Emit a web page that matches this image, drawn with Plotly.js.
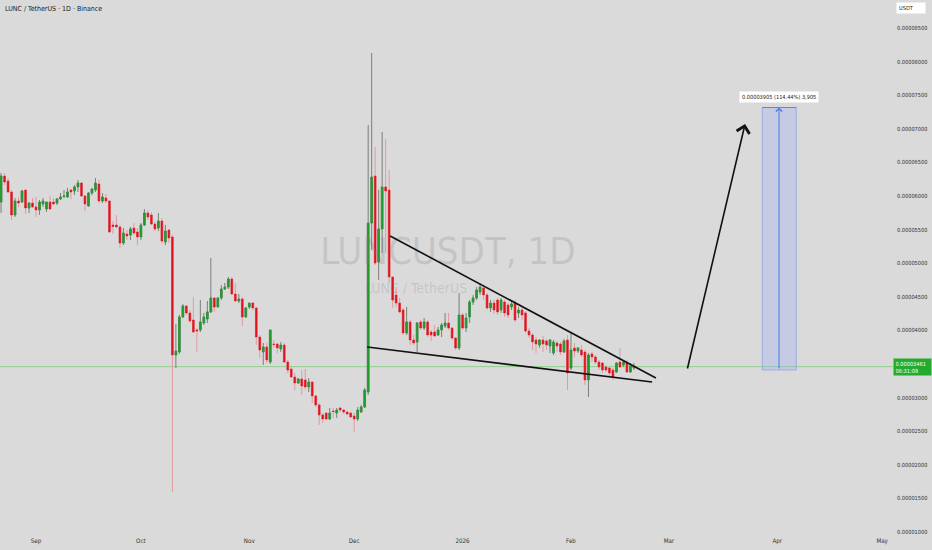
<!DOCTYPE html>
<html>
<head>
<meta charset="utf-8">
<script src="https://cdn.plot.ly/plotly-3.0.1.min.js"></script>
<style>
html,body{margin:0;padding:0;background:#dadada;}
#chart{width:932px;height:550px;}
</style>
</head>
<body>
<div id="chart"></div>
<script>
// Prices are given in units of 0.00000001 USDT
const UNIT = 1e-8;
const firstDate = '2025-08-22';

const opens = [
5911,6298,6224,6060,5718,5926,5911,6090,5822,5896,
5837,5792,5881,5807,5911,5911,5896,5956,5993,5986,
6090,6075,6135,6194,6001,5852,6045,6090,6179,5926,
5971,5926,5569,5569,5539,5301,5435,5420,5524,5465,
5391,5569,5748,5718,5584,5524,5628,5316,5495,5391,
3635,3679,4200,4364,4260,4155,4007,4007,4111,4170,
4275,4483,4349,4483,4617,4646,4765,4542,4438,4468,
4200,4349,4408,4334,3902,3679,3754,3530,3798,3798,
3724,3783,3530,3426,3307,3218,3278,3263,3159,3233,
3025,2891,2742,2771,2682,2801,2771,2846,2816,2786,
2771,2727,2682,2786,2861,3084,5598,6298,5018,5509,
6135,6090,4795,4527,4408,4304,3962,4126,3858,3828,
4126,4036,4126,3977,3977,3932,4007,4066,4111,4036,
3887,3739,4230,4036,4200,4423,4483,4572,4632,4527,
4334,4408,4453,4304,4423,4379,4349,4408,4260,4304,
4260,3992,3932,3858,3783,3858,3843,3768,3664,3813,
3798,3679,3858,3441,3739,3694,3709,3679,3263,3650,
3605,3530,3515,3456,3441,3411,3382,3530,3486,3515,
3382,3441];

const highs = [
6343,6343,6268,6090,5971,5986,6090,6090,5911,5971,
5986,5941,5971,5911,6001,5971,5971,6045,6090,6120,
6105,6164,6239,6209,6015,6060,6120,6268,6239,6045,
6030,5941,5628,5718,5569,5524,5495,5539,5598,5524,
5598,5807,5792,5763,5613,5748,5673,5569,5509,5420,
4096,4230,4394,4379,4304,4498,4036,4453,4260,4438,
5078,4498,4498,4676,4706,4795,4795,4706,4542,4498,
4349,4408,4423,4349,3932,3813,3813,4007,3858,3813,
3828,3813,3560,3456,3367,3292,3411,3426,3292,3233,
3040,2920,2771,2786,2846,2846,2846,2861,2831,2801,
2786,2771,2861,2891,3144,7057,8128,6730,6090,6953,
6849,6387,4795,4646,4483,4334,4349,4155,3932,4126,
4155,4185,4155,4007,4081,4051,4111,4260,4260,4051,
3902,4557,4260,4260,4453,4527,4646,4706,4676,4557,
4453,4453,4483,4483,4453,4408,4453,4453,4349,4334,
4290,4036,3962,3902,3872,3917,3872,3872,3858,3843,
3828,3872,3932,3977,3813,3754,3783,3709,3664,3679,
3634,3560,3530,3486,3456,3441,3530,3739,3560,3560,
3515,3515];

const lows = [
5748,6164,6045,5643,5688,5837,5896,5733,5748,5822,
5688,5718,5837,5763,5792,5866,5866,5941,5971,5971,
5956,6015,6060,5986,5777,5837,6015,6060,5896,5896,
5896,5450,5435,5524,5227,5271,5346,5346,5420,5271,
5346,5554,5643,5569,5480,5480,5301,5271,5301,1596,
3441,3650,4185,4230,4111,3962,3679,3977,4081,4111,
4260,4275,4349,4453,4602,4617,4527,4423,4408,4066,
4185,4319,4304,3783,3590,3486,3515,3500,3739,3664,
3679,3515,3367,3292,3114,3203,3040,3114,3084,2920,
2861,2593,2623,2667,2667,2697,2697,2786,2757,2742,
2697,2489,2652,2771,2846,3040,5197,4973,4751,5152,
5152,4706,4334,4349,4260,3932,3932,3783,3783,3679,
4007,4007,3902,3843,3902,3917,3902,4036,4007,3858,
3709,3709,4007,3977,4111,4379,4453,4527,4453,4304,
4275,4245,4230,4260,4200,4185,4304,4126,4185,4155,
3962,3887,3709,3664,3739,3679,3709,3664,3634,3679,
3634,3664,3114,3411,3605,3664,3605,3188,3010,3530,
3500,3411,3367,3382,3307,3263,3367,3441,3456,3367,
3367,3411];

const closes = [
6298,6209,6060,5718,5926,5896,6075,5822,5896,5837,
5792,5911,5926,5911,5807,5881,5956,5986,6001,6060,
6060,6135,6194,6001,5881,6045,6105,6194,5926,5986,
5926,5465,5547,5539,5301,5450,5405,5509,5450,5391,
5569,5748,5688,5584,5509,5628,5331,5480,5376,3635,
3694,4200,4364,4260,4141,3977,3992,4126,4200,4275,
4483,4349,4483,4617,4646,4765,4542,4438,4468,4200,
4334,4408,4334,3902,3709,3754,3560,4007,3791,3739,
3783,3530,3411,3307,3218,3278,3173,3159,3233,3025,
2891,2742,2682,2682,2771,2794,2816,2816,2786,2757,
2712,2682,2816,2861,3114,5598,6283,5003,5509,6135,
6075,4795,4453,4408,4275,3962,4126,3858,3813,4111,
4036,4126,3932,3932,3917,4007,4081,4111,4036,3887,
3739,4230,4036,4185,4423,4483,4602,4646,4527,4334,
4408,4304,4275,4453,4260,4230,4394,4155,4304,4230,
3992,3932,3828,3798,3858,3798,3783,3858,3828,3768,
3679,3843,3367,3709,3694,3739,3634,3263,3634,3605,
3530,3456,3411,3411,3367,3307,3515,3456,3530,3382,
3471,3461];

// axis ticks
const yTickVals = [1000,1500,2000,2500,3000,4000,4500,5000,5500,6000,6500,7000,7500,8000,8500];
const xTickVals = ['2025-09-01','2025-10-01','2025-11-01','2025-12-01','2026-01-01','2026-02-01','2026-03-01','2026-04-01','2026-05-01'];
const xTickText = ['Sep','Oct','Nov','Dec','2026','Feb','Mar','Apr','May'];

// drawings
const wedgeUpperX = ['2025-12-11 07:00','2026-02-25 07:00'];
const wedgeUpperY = [5405, 3292];
const wedgeLowerX = ['2025-12-04 17:00','2026-02-24 05:00'];
const wedgeLowerY = [3753, 3232];
const arrowX = ['2026-03-06 05:00','2026-03-22 19:00'];
const arrowY = [3411, 7072];
const targetX = ['2026-03-27 17:00','2026-04-06 10:00'];
const targetMid = '2026-04-01 12:00';
const targetEntry = 3412;
const targetMove = 3905;
const targetLabel = '0.00003905 (114.44%) 3,905';
const lastPriceText = '0.00003461';
const countdown = '06:31:08';
const watermarkMain = 'LUNCUSDT, 1D';
const watermarkSub = 'LUNC / TetherUS';
const titleText = 'LUNC / TetherUS · 1D · Binance';

// ---- build ----
function addDays(s, n){ const d = new Date(s + 'T00:00:00Z'); d.setUTCDate(d.getUTCDate()+n); return d.toISOString().slice(0,10); }
const dates = opens.map((_, i) => addDays(firstDate, i));
const sc = a => a.map(v => v*UNIT);
const bodyHi = opens.map((o,i) => Math.max(o, closes[i]));
const bodyLo = opens.map((o,i) => Math.min(o, closes[i]));

const W = 932, H = 550, ML = 0, MR = 39, MT = 0, MB = 14;
const PW = W-ML-MR, PH = H-MT-MB;
const px = x => (x-ML)/PW;
const py = y => 1-(y-MT)/PH;

const narrow = '"Liberation Sans Narrow", "DejaVu Sans Condensed", "Liberation Sans", Arial, sans-serif';
const green = '#1f9e2a', red = '#e0131f';

const traces = [
  { type:'scatter', mode:'text', x:['2025-12-27 19:00','2025-12-18 17:00'], y:[5123*UNIT, 4602*UNIT],
    text:[watermarkMain, watermarkSub], textposition:'middle center',
    textfont:{family:narrow, size:[38,14], color:'rgba(120,120,120,0.22)'}, hoverinfo:'skip', showlegend:false },
  { type:'candlestick', x:dates, open:sc(opens), high:sc(highs), low:sc(lows), close:sc(closes),
    increasing:{line:{color:'#7a7f7a', width:1}, fillcolor:'#7a7f7a'},
    decreasing:{line:{color:'#e29aa0', width:1}, fillcolor:'#e29aa0'},
    whiskerwidth:0, hoverinfo:'skip', showlegend:false },
  { type:'candlestick', x:dates, open:sc(opens), high:sc(bodyHi), low:sc(bodyLo), close:sc(closes),
    increasing:{line:{color:green, width:0.4}, fillcolor:green},
    decreasing:{line:{color:red, width:0.4}, fillcolor:red},
    whiskerwidth:0, hoverinfo:'skip', showlegend:false }
];

const shapes = [
  {type:'line', xref:'paper', x0:0, x1:1, yref:'y', y0:closes[closes.length-1]*UNIT, y1:closes[closes.length-1]*UNIT,
   line:{color:'#8fd08f', width:1}, layer:'below'},
  {type:'line', x0:wedgeUpperX[0], x1:wedgeUpperX[1], y0:wedgeUpperY[0]*UNIT, y1:wedgeUpperY[1]*UNIT, line:{color:'#111', width:1.6}},
  {type:'line', x0:wedgeLowerX[0], x1:wedgeLowerX[1], y0:wedgeLowerY[0]*UNIT, y1:wedgeLowerY[1]*UNIT, line:{color:'#111', width:1.6}},
  {type:'rect', x0:targetX[0], x1:targetX[1], y0:targetEntry*UNIT, y1:(targetEntry+targetMove)*UNIT,
   fillcolor:'rgba(160,178,240,0.36)', line:{color:'rgba(120,148,228,0.6)', width:1}},
  {type:'line', x0:targetX[0], x1:targetX[1], y0:(targetEntry+targetMove)*UNIT, y1:(targetEntry+targetMove)*UNIT, line:{color:'#5b82ee', width:1.2}}
];

const annotations = [
  {xref:'paper', yref:'paper', x:px(3), y:py(9), xanchor:'left', yanchor:'middle', text:titleText, showarrow:false,
   font:{family:narrow, size:7, color:'#1a1a1a'}},
  // big arrow
  {x:arrowX[1], y:arrowY[1]*UNIT, ax:arrowX[0], ay:arrowY[0]*UNIT, axref:'x', ayref:'y', xref:'x', yref:'y',
   text:'', showarrow:true, arrowhead:4, arrowsize:1.6, arrowwidth:1.6, arrowcolor:'#111', standoff:0},
  // target arrow
  {x:targetMid, y:(targetEntry+targetMove)*UNIT, ax:targetMid, ay:targetEntry*UNIT, axref:'x', ayref:'y', xref:'x', yref:'y',
   text:'', showarrow:true, arrowhead:4, arrowsize:1.2, arrowwidth:1, arrowcolor:'#4a78ee', standoff:0},
  {x:targetMid, y:(targetEntry+targetMove)*UNIT, xref:'x', yref:'y', yshift:11, xanchor:'center', yanchor:'middle',
   text:targetLabel, showarrow:false, bgcolor:'#ffffff', borderpad:2, font:{family:narrow, size:5.6, color:'#222'}},
  {xref:'paper', yref:'paper', x:px(911), y:py(8.5), xanchor:'center', yanchor:'middle', text:'USDT', showarrow:false, bgcolor:'#ffffff',
   borderpad:2, font:{family:narrow, size:5.6, color:'#222'}, width:24, align:'left'},
  {xref:'paper', yref:'y', x:px(912.5), y:closes[closes.length-1]*UNIT, xanchor:'center', yanchor:'middle',
   text:lastPriceText+'<br>'+countdown, showarrow:false,
   bgcolor:'#22ab2c', borderpad:1.5, font:{family:narrow, size:5.6, color:'#ffffff'}, align:'left', width:34}
];

const layout = {
  width:W, height:H,
  margin:{l:ML, r:MR, t:MT, b:MB, pad:0},
  paper_bgcolor:'#dadada', plot_bgcolor:'#dadada',
  showlegend:false, boxgap:0.3, boxgroupgap:0.3,
  xaxis:{type:'date', range:['2025-08-21 16:48','2026-05-04 02:24'], rangeslider:{visible:false},
    showgrid:false, zeroline:false, showline:false, ticks:'',
    tickvals:xTickVals, ticktext:xTickText, tickfont:{family:narrow, size:6.2, color:'#333'}, fixedrange:true},
  yaxis:{side:'right', range:[941*UNIT, 8917*UNIT], showgrid:false, zeroline:false, showline:false, ticks:'',
    tickvals:sc(yTickVals), ticktext:yTickVals.map(v => (v*UNIT).toFixed(8)),
    tickfont:{family:narrow, size:5.6, color:'#333'}, ticklabelstandoff:3, fixedrange:true},
  shapes, annotations,
  font:{family:narrow}
};

Plotly.newPlot('chart', traces, layout, {displayModeBar:false, staticPlot:true});
</script>
</body>
</html>
